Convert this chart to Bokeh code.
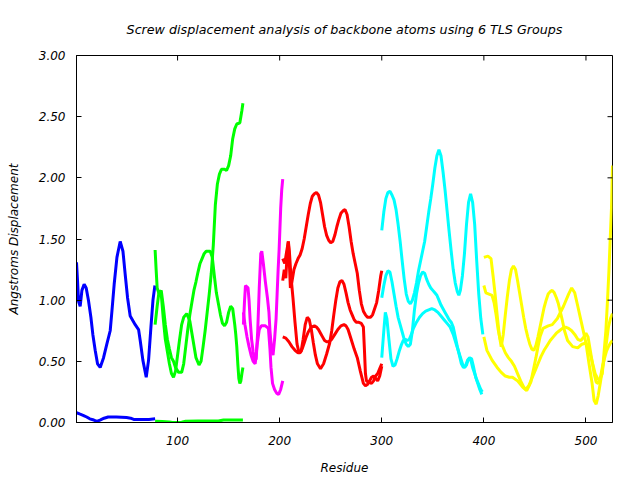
import math
from bokeh.plotting import figure
from bokeh.models import Range1d, FixedTicker, NumeralTickFormatter
from bokeh.embed import file_html
from bokeh.resources import INLINE

title_text = "Screw displacement analysis of backbone atoms using 6 TLS Groups"
x_label = "Residue"
y_label = "Angstroms Displacement"
x_ticks = [100, 200, 300, 400, 500]
y_ticks = [0.0, 0.5, 1.0, 1.5, 2.0, 2.5, 3.0]
x_min, x_max = 1, 526
y_min, y_max = 0.0, 3.0

# ---- TLS group 1 (blue) ----
blue_1_res = [1, 2, 3, 4.6, 6.3, 8.5, 10.5, 12.7, 15.1, 17, 19.3, 21.6, 24.2, 27.5, 30.7, 34, 35.7, 37.9,
              40.6, 43.8, 46.5, 48.7, 51, 53.6, 58.5, 61.8, 63.4, 66, 69.3, 71.6, 73.9, 75.9, 77.8]
blue_1_disp = [1.31, 1.16, 0.99, 0.95, 1.08, 1.13, 1.10, 1.00, 0.86, 0.72, 0.59, 0.48, 0.45, 0.53, 0.64, 0.75,
               0.91, 1.13, 1.35, 1.48, 1.40, 1.21, 1.02, 0.87, 0.80, 0.76, 0.67, 0.51, 0.37, 0.51, 0.78, 1.00, 1.12]
blue_2_res = [1, 4, 8, 11, 14, 18, 21, 24, 28, 32, 40, 50, 54, 57, 65, 72, 78]
blue_2_disp = [0.08, 0.07, 0.057, 0.045, 0.03, 0.02, 0.01, 0.02, 0.035, 0.045, 0.045, 0.04, 0.035, 0.025,
               0.025, 0.025, 0.03]

# ---- TLS group 2 (green) ----
green_1_res = [78, 80, 82, 84, 86, 88, 90, 92, 94, 96, 98, 100, 102, 104, 106, 109, 112, 115, 118, 121,
               123, 125, 127, 129, 131, 133, 135, 137, 139, 141, 143, 146, 148, 150, 152, 154, 156, 158,
               161, 163, 164]
green_1_disp = [0.80, 0.95, 1.08, 1.05, 0.85, 0.68, 0.58, 0.48, 0.40, 0.37, 0.42, 0.55, 0.68, 0.80, 0.86,
                0.89, 0.83, 0.68, 0.53, 0.47, 0.50, 0.62, 0.75, 0.90, 1.05, 1.22, 1.45, 1.78, 1.95, 2.03,
                2.07, 2.07, 2.06, 2.10, 2.18, 2.32, 2.40, 2.44, 2.45, 2.55, 2.61]
green_2_res = [78, 79, 80, 82, 84, 86, 88, 90, 92, 94, 96, 98, 101, 104, 106, 108, 110, 112, 114, 116,
               118, 120, 122, 124, 126, 128, 132, 134, 136, 138, 140, 142, 144, 146, 148, 150, 152, 154,
               156, 157, 158, 159, 160, 161, 162, 163, 164]
green_2_disp = [1.41, 1.25, 1.10, 1.05, 1.08, 0.95, 0.80, 0.68, 0.60, 0.53, 0.50, 0.45, 0.41, 0.41, 0.48,
                0.62, 0.76, 0.88, 0.98, 1.08, 1.15, 1.23, 1.30, 1.34, 1.38, 1.40, 1.40, 1.35, 1.20, 1.06,
                0.97, 0.88, 0.81, 0.79, 0.82, 0.90, 0.95, 0.93, 0.80, 0.72, 0.62, 0.48, 0.36, 0.32, 0.34,
                0.40, 0.45]
green_3_res = [78, 85, 92, 95, 100, 104, 108, 120, 130, 140, 145, 155, 164]
green_3_disp = [0.01, 0.008, 0.004, 0.0, 0.0, 0.002, 0.01, 0.012, 0.012, 0.012, 0.02, 0.02, 0.02]

# ---- TLS group 3 (magenta) ----
magenta_1_res = [164.5, 165.5, 166.5, 169, 170, 171, 172.5, 174, 175.5, 177, 178.5, 180, 181.5, 182.5,
                 184, 186, 188, 189.5, 190.5, 192, 193.5, 195, 196.5, 197.5, 198.5, 199.5, 201, 202, 203]
magenta_1_disp = [0.80, 0.98, 1.12, 1.10, 1.00, 0.85, 0.68, 0.58, 0.50, 0.52, 0.75, 1.10, 1.38, 1.40,
                  1.30, 1.15, 1.02, 0.90, 0.75, 0.60, 0.55, 0.68, 0.85, 1.05, 1.25, 1.42, 1.75, 1.90, 1.99]
magenta_2_res = [164.5, 166, 168, 170, 172, 174, 176, 178, 180, 182, 186, 189, 190.5, 191.5, 193, 195,
                 197, 199, 201, 203]
magenta_2_disp = [0.90, 0.80, 0.70, 0.62, 0.55, 0.50, 0.48, 0.64, 0.76, 0.79, 0.79, 0.77, 0.60, 0.45,
                  0.32, 0.27, 0.24, 0.23, 0.27, 0.34]

# ---- TLS group 4 (red) ----
red_1_res = [203, 205, 206.5, 208.5, 209.5, 210.5, 212, 214, 216, 218, 220, 222, 224, 226, 228, 230, 232,
             234, 236, 238, 240, 242, 244, 246, 248, 250, 252, 254, 256, 258, 260, 262, 264, 266, 268, 270,
             272, 274, 276, 278, 280, 282, 284, 286, 289, 291, 293, 295, 297, 299, 300]
red_1_disp = [1.34, 1.30, 1.38, 1.48, 1.30, 1.10, 1.15, 1.25, 1.30, 1.34, 1.37, 1.42, 1.50, 1.60, 1.70,
              1.79, 1.85, 1.87, 1.88, 1.86, 1.80, 1.70, 1.60, 1.53, 1.49, 1.47, 1.48, 1.53, 1.60, 1.66,
              1.71, 1.73, 1.74, 1.70, 1.60, 1.48, 1.38, 1.30, 1.22, 1.08, 0.97, 0.91, 0.88, 0.86, 0.86,
              0.88, 0.93, 0.98, 1.08, 1.20, 1.24]
red_2_res = [203, 204.5, 206, 207.5, 208.5, 209.5, 211, 213, 215, 217, 219, 221, 223, 225, 227, 229, 231,
             233, 235, 237, 240, 243, 246, 249, 251, 253, 255, 257, 259, 261, 263, 265, 267, 269, 271, 273,
             275, 277, 280, 282, 283, 284, 285, 287, 290, 292, 294, 296, 298, 300]
red_2_disp = [1.16, 1.25, 1.18, 1.40, 1.48, 1.40, 1.20, 1.02, 0.82, 0.64, 0.57, 0.58, 0.68, 0.80, 0.86,
              0.84, 0.76, 0.65, 0.55, 0.48, 0.44, 0.48, 0.56, 0.65, 0.75, 0.88, 1.00, 1.10, 1.15, 1.16,
              1.13, 1.06, 0.98, 0.92, 0.88, 0.84, 0.82, 0.82, 0.81, 0.78, 0.60, 0.40, 0.34, 0.33, 0.32,
              0.34, 0.38, 0.40, 0.44, 0.48]
red_3_res = [203, 206, 209, 212, 215, 218, 220, 222, 224, 226, 228, 231, 234, 236, 238, 240, 242, 244,
             246, 248, 251, 254, 257, 260, 263, 265, 267, 270, 273, 276, 279, 282, 284, 286, 288, 290,
             292, 294, 296, 298, 300]
red_3_disp = [0.70, 0.69, 0.66, 0.62, 0.59, 0.57, 0.57, 0.60, 0.65, 0.70, 0.74, 0.78, 0.79, 0.78, 0.76,
              0.73, 0.70, 0.67, 0.66, 0.66, 0.68, 0.72, 0.76, 0.79, 0.80, 0.79, 0.76, 0.68, 0.60, 0.53,
              0.42, 0.32, 0.30, 0.31, 0.34, 0.37, 0.38, 0.36, 0.34, 0.38, 0.46]

# ---- TLS group 5 (cyan) ----
cyan_1_res = [300, 302, 304, 306, 308, 310, 312, 314, 316, 318, 320, 322, 324, 326, 328, 330, 332, 334,
              336, 338, 340, 342, 344, 346, 348, 350, 352, 354, 356, 358, 360, 362, 364, 366, 368, 370,
              372, 374, 375.5, 377, 379, 381, 383, 385, 387, 389, 391, 393, 395, 397, 399]
cyan_1_disp = [1.57, 1.72, 1.83, 1.88, 1.89, 1.86, 1.82, 1.74, 1.62, 1.48, 1.32, 1.17, 1.05, 0.99, 0.97,
               1.00, 1.06, 1.14, 1.24, 1.32, 1.40, 1.48, 1.60, 1.72, 1.83, 1.95, 2.08, 2.18, 2.23, 2.18,
               2.05, 1.90, 1.73, 1.56, 1.40, 1.25, 1.14, 1.07, 1.04, 1.08, 1.20, 1.38, 1.62, 1.80, 1.87,
               1.80, 1.62, 1.32, 1.05, 0.85, 0.72]
cyan_2_res = [300, 302, 304, 306, 308, 310, 312, 314, 316, 318, 320, 322, 324, 326, 328, 330, 332, 334,
              336, 338, 340, 342, 344, 346, 348, 350, 352, 354, 356, 358, 360, 362, 364, 366, 368, 370,
              372, 374, 376, 378, 380, 382, 384, 386, 388, 390, 392, 394, 396, 398]
cyan_2_disp = [1.02, 1.12, 1.20, 1.24, 1.23, 1.15, 1.05, 0.95, 0.86, 0.80, 0.74, 0.68, 0.64, 0.62, 0.64,
               0.75, 0.92, 1.05, 1.14, 1.20, 1.23, 1.22, 1.17, 1.13, 1.10, 1.08, 1.06, 1.04, 1.00, 0.96,
               0.93, 0.90, 0.87, 0.84, 0.82, 0.78, 0.70, 0.62, 0.55, 0.48, 0.45, 0.46, 0.51, 0.53, 0.52,
               0.45, 0.37, 0.32, 0.27, 0.23]
cyan_3_res = [300, 302, 303.5, 305, 307, 309, 311, 313, 315, 317, 319, 321, 323, 325, 327, 329, 331, 334,
              337, 340, 343, 346, 349, 352, 355, 358, 361, 364, 367, 370, 373, 376, 379, 381, 383, 385,
              387, 389, 391, 393, 395, 397, 398.5]
cyan_3_disp = [0.53, 0.75, 0.90, 0.85, 0.68, 0.52, 0.46, 0.47, 0.52, 0.58, 0.63, 0.67, 0.68, 0.67, 0.68,
               0.72, 0.77, 0.82, 0.86, 0.89, 0.91, 0.92, 0.93, 0.92, 0.90, 0.87, 0.84, 0.81, 0.78, 0.72,
               0.64, 0.56, 0.48, 0.45, 0.47, 0.52, 0.52, 0.45, 0.40, 0.35, 0.31, 0.27, 0.25]

# ---- TLS group 6 (yellow) ----
yellow_1_res = [400, 404, 407, 409, 411, 413, 415, 417, 419, 421, 423, 425, 427, 429, 431, 433, 435, 437,
                439, 441, 443, 445, 447, 449, 451, 453, 455, 457, 459, 461, 463, 465, 467, 469, 471, 473,
                475, 477, 479, 482, 487, 492, 496, 500, 503, 506, 509, 512, 514, 516, 518, 519.5, 521,
                522.5, 524, 525, 526]
yellow_1_disp = [1.35, 1.36, 1.34, 1.20, 1.05, 0.88, 0.72, 0.62, 0.72, 0.88, 1.03, 1.16, 1.25, 1.28,
                 1.25, 1.16, 1.06, 0.96, 0.86, 0.77, 0.70, 0.64, 0.60, 0.59, 0.63, 0.70, 0.78, 0.86, 0.94,
                 1.00, 1.05, 1.07, 1.08, 1.06, 1.02, 0.97, 0.90, 0.83, 0.75, 0.67, 0.62, 0.61, 0.64, 0.65,
                 0.60, 0.50, 0.40, 0.35, 0.36, 0.40, 0.60, 0.75, 0.98, 1.24, 1.55, 1.75, 2.10]
yellow_2_res = [400, 402, 405, 408, 410, 412, 414, 416, 418, 421, 424, 427, 430, 433, 436, 439, 441, 444,
                447, 450, 453, 456, 459, 462, 465, 468, 471, 474, 477, 480, 483, 486, 489, 492, 495, 498,
                500, 502, 504, 506, 508, 510, 512, 514, 516, 518, 520, 522, 524, 526]
yellow_2_disp = [1.12, 1.06, 1.05, 1.04, 0.98, 0.88, 0.76, 0.68, 0.63, 0.57, 0.53, 0.50, 0.46, 0.40,
                 0.34, 0.29, 0.27, 0.30, 0.36, 0.42, 0.48, 0.54, 0.59, 0.63, 0.67, 0.70, 0.73, 0.75, 0.77,
                 0.78, 0.77, 0.75, 0.72, 0.68, 0.67, 0.70, 0.73, 0.70, 0.60, 0.50, 0.40, 0.33, 0.32, 0.36,
                 0.45, 0.52, 0.58, 0.62, 0.65, 0.67]
yellow_3_res = [400, 403, 408, 413, 417, 421, 425, 428, 433, 438, 442, 446, 449, 451, 453, 455, 458, 463,
                467, 472, 478, 483, 486, 489, 492, 496, 500, 503, 506, 508, 510, 512, 514, 517, 520, 522,
                524, 526]
yellow_3_disp = [0.70, 0.59, 0.51, 0.45, 0.41, 0.38, 0.37, 0.37, 0.34, 0.29, 0.26, 0.33, 0.45, 0.53,
                 0.62, 0.70, 0.77, 0.79, 0.80, 0.85, 0.95, 1.05, 1.10, 1.06, 0.95, 0.80, 0.65, 0.48, 0.32,
                 0.18, 0.15, 0.22, 0.32, 0.48, 0.65, 0.78, 0.85, 0.89]

series = [
    (blue_1_res, blue_1_disp, "#0000ff"), (blue_2_res, blue_2_disp, "#0000ff"),
    (green_3_res, green_3_disp, "#00ff00"), (green_1_res, green_1_disp, "#00ff00"),
    (green_2_res, green_2_disp, "#00ff00"),
    (magenta_1_res, magenta_1_disp, "#ff00ff"), (magenta_2_res, magenta_2_disp, "#ff00ff"),
    (red_1_res, red_1_disp, "#ff0000"), (red_2_res, red_2_disp, "#ff0000"), (red_3_res, red_3_disp, "#ff0000"),
    (cyan_1_res, cyan_1_disp, "#00ffff"), (cyan_2_res, cyan_2_disp, "#00ffff"), (cyan_3_res, cyan_3_disp, "#00ffff"),
    (yellow_1_res, yellow_1_disp, "#ffff00"), (yellow_2_res, yellow_2_disp, "#ffff00"),
    (yellow_3_res, yellow_3_disp, "#ffff00"),
]

FONT = "DejaVu Sans"

p = figure(width=640, height=480, output_backend="svg", toolbar_location=None,
           x_range=Range1d(x_min, x_max), y_range=Range1d(y_min, y_max),
           min_border_left=76, min_border_right=28, min_border_top=55, min_border_bottom=58,
           x_axis_label=x_label, y_axis_label=y_label)

p.title.text = title_text
p.title.align = "center"
p.title.text_font = FONT
p.title.text_font_style = "italic"
p.title.text_font_size = "12.7px"
p.title.text_color = "black"
p.title.standoff = 38

p.grid.visible = False
p.outline_line_color = "black"
p.outline_line_width = 1
p.background_fill_color = "white"
p.border_fill_color = "white"

for res, disp, col in series:
    p.line(res, disp, line_color=col, line_width=3)

# mirrored inward tick marks on the top and right frame edges
p.ray(x=x_ticks, y=[y_max] * len(x_ticks), length=5, length_units="screen",
      angle=-math.pi / 2, line_color="black", line_width=1)
p.ray(x=[x_max] * len(y_ticks), y=y_ticks, length=5, length_units="screen",
      angle=math.pi, line_color="black", line_width=1)

for ax in p.xaxis:
    ax.ticker = FixedTicker(ticks=x_ticks)
for ax in p.yaxis:
    ax.ticker = FixedTicker(ticks=y_ticks)
    ax.formatter = NumeralTickFormatter(format="0.00")

for ax in list(p.xaxis) + list(p.yaxis):
    ax.major_tick_in = 5
    ax.major_tick_out = 0
    ax.minor_tick_line_color = None
    ax.major_label_text_font = FONT
    ax.major_label_text_font_style = "italic"
    ax.major_label_text_font_size = "12px"
    ax.major_label_text_color = "black"
    ax.axis_label_text_font = FONT
    ax.axis_label_text_font_style = "italic"
    ax.axis_label_text_font_size = "12px"
    ax.axis_label_text_color = "black"

p.xaxis.major_label_standoff = 13
p.yaxis.major_label_standoff = 11
p.xaxis.axis_label_standoff = 13
p.yaxis.axis_label_standoff = 15

open("out.html", "w").write(file_html(p, INLINE))
